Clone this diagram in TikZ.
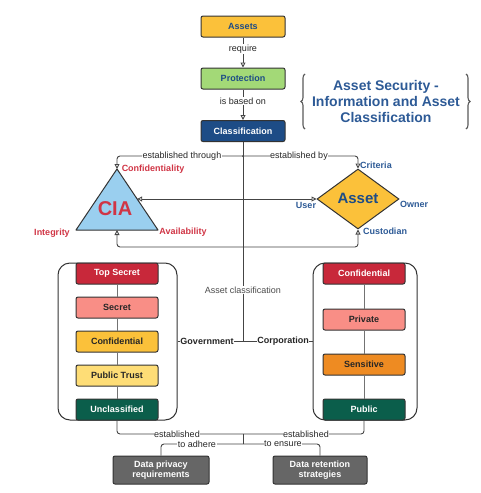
\documentclass[tikz,border=0pt]{standalone}
\usepackage{fontspec}
\setmainfont{Liberation Sans}
\usetikzlibrary{arrows.meta,shapes.geometric,decorations.pathreplacing}
\definecolor{cyellow}{HTML}{FBC13A}
\definecolor{cgreen}{HTML}{A3D977}
\definecolor{cdblue}{HTML}{1D4C86}
\definecolor{cred}{HTML}{C8283A}
\definecolor{csalmon}{HTML}{F98E86}
\definecolor{clyellow}{HTML}{FEDD76}
\definecolor{cdgreen}{HTML}{0B5E4B}
\definecolor{corange}{HTML}{EE8B22}
\definecolor{cgray}{HTML}{666666}
\definecolor{ctri}{HTML}{9ACFEF}
\definecolor{ctxtred}{HTML}{D03545}
\definecolor{ctxtblue}{HTML}{2D5A96}
\definecolor{cedge}{HTML}{333333}
\definecolor{cline}{HTML}{444444}
\begin{document}
\begin{tikzpicture}[x=1pt,y=-1pt,
  box/.style={draw=cedge, line width=1pt, rounded corners=2pt, minimum width=82pt, minimum height=21pt, inner sep=0pt, font=\fontsize{9}{10.5}\selectfont\bfseries, align=center},
  cont/.style={draw=cedge, line width=1pt, rounded corners=12pt, minimum height=157pt, inner sep=0pt},
  lbl/.style={fill=white, inner sep=0.6pt, font=\fontsize{9}{10}\selectfont, text=black!85},
  clbl/.style={inner sep=0pt, font=\fontsize{9}{10}\selectfont\bfseries},
  conn/.style={draw=cline, line width=0.9pt},
  arr/.style={conn, -{Triangle[length=5pt,width=5pt,fill=white]}},
  arrb/.style={conn, {Triangle[length=5pt,width=5pt,fill=white]}-{Triangle[length=5pt,width=5pt,fill=white]}},
  brc/.style={draw=black!65, line width=1.1pt, decorate, decoration={brace, amplitude=4pt}}
]
\useasboundingbox (0,0) rectangle (480,493);

% top chain
\node[box, minimum width=84pt, fill=cyellow, text=cdblue] (assets) at (243,26.5) {Assets};
\node[box, minimum width=84pt, fill=cgreen, text=cdblue] (prot) at (243,78.5) {Protection};
\node[box, minimum width=84pt, fill=cdblue, text=white] (class) at (243,131) {Classification};

% title
\node[font=\fontsize{14}{16}\selectfont\bfseries, text=ctxtblue, align=center] (title) at (386,101) {Asset Security -\\Information and Asset\\Classification};
\draw[brc] (305,129) -- (305,74);
\draw[brc] (466,74) -- (466,129);

% CIA triangle
\coordinate (apex) at (117,169);
\coordinate (base) at (117,230);
\coordinate (triR) at (137.2,199);
\draw[fill=ctri, draw=cedge, line width=1pt, line join=round] (apex) -- (158,230) -- (76,230) -- cycle;
\node[font=\fontsize{20}{22}\selectfont\bfseries, text=ctxtred] (cia) at (115,209) {CIA};
\node[clbl, text=ctxtred] (lconf) at (153,169.5) {Confidentiality};
\node[clbl, text=ctxtred] (linteg) at (52,233) {Integrity};
\node[clbl, text=ctxtred] (lavail) at (183,232) {Availability};

% Asset diamond
\node[diamond, draw=cedge, fill=cyellow, line width=1pt, minimum width=82pt, minimum height=60pt, inner sep=0pt, font=\fontsize{15}{17}\selectfont\bfseries, text=cdblue] (asset) at (358,199) {\raisebox{2pt}{Asset}};
\node[clbl, text=ctxtblue] (lcrit) at (376,165) {Criteria};
\node[clbl, text=ctxtblue] (luser) at (306,205) {User};
\node[clbl, text=ctxtblue] (lowner) at (414,204.5) {Owner};
\node[clbl, text=ctxtblue] (lcust) at (385,231) {Custodian};

% junction coordinates
\coordinate (jt) at (243,156);
\coordinate (jc) at (243,341);
\coordinate (jb) at (243,247);
\coordinate (je) at (243,434);
\coordinate (jf) at (243,444);

% containers
\node[cont, minimum width=119pt] (gov) at (117.5,341.5) {};
\node[cont, minimum width=104pt] (corp) at (365,341.5) {};

% government boxes
\node[box, fill=cred, text=white] (ts) at (117,273.5) {Top Secret};
\node[box, fill=csalmon, text=black!85] (sec) at (117,307.5) {Secret};
\node[box, fill=cyellow, text=black!85] (gconf) at (117,341.5) {Confidential};
\node[box, fill=clyellow, text=black!85] (ptrust) at (117,375.5) {Public Trust};
\node[box, fill=cdgreen, text=white] (uncl) at (117,409.5) {Unclassified};

% corporation boxes
\node[box, fill=cred, text=white] (cconf) at (364,273.5) {Confidential};
\node[box, fill=csalmon, text=black!85] (priv) at (364,319.5) {Private};
\node[box, fill=corange, text=black!85] (sens) at (364,364.5) {Sensitive};
\node[box, fill=cdgreen, text=white] (pub) at (364,409.5) {Public};

% bottom boxes
\node[box, fill=cgray, text=white, minimum width=96pt, minimum height=28pt] (dp) at (161,470) {Data privacy\\requirements};
\node[box, fill=cgray, text=white, minimum width=94pt, minimum height=28pt] (dr) at (320,470) {Data retention\\strategies};

% connectors
\draw[arr] (assets.south) -- (prot.north);
\draw[arr] (prot.south) -- (class.north);
\draw[conn] (class.south) -- (jc);
\draw[arr, rounded corners=3pt] (jt) -| (apex);
\draw[arr, rounded corners=3pt] (jt) -| (asset.north);
\fill[cline] (jt) circle (1pt);
\draw[arrb] (asset.west) -- (triR);
\draw[arrb, rounded corners=3pt] (base) |- (jb) -| (asset.south);
\draw[conn] (gov.east |- jc) -- (corp.west |- jc);

\draw[conn, draw=black!55] (ts.south) -- (sec.north);
\draw[conn, draw=black!55] (sec.south) -- (gconf.north);
\draw[conn, draw=black!55] (gconf.south) -- (ptrust.north);
\draw[conn, draw=black!55] (ptrust.south) -- (uncl.north);
\draw[conn, draw=black!55] (cconf.south) -- (priv.north);
\draw[conn, draw=black!55] (priv.south) -- (sens.north);
\draw[conn, draw=black!55] (sens.south) -- (pub.north);

\draw[conn, rounded corners=3pt] (uncl.south) |- (je);
\draw[conn, rounded corners=3pt] (pub.south) |- (je);
\draw[conn] (je) -- (jf);
\draw[conn, rounded corners=3pt] (jf) -| (dp.north);
\draw[conn, rounded corners=3pt] (jf) -| (dr.north);

% labels
\node[lbl] (lreq) at (243,49) {require};
\node[lbl] (lbased) at (243,101) {is based on};
\node[lbl] (lthrough) at (182,156) {established through};
\node[lbl] (lby) at (299,156) {established by};
\node[lbl, text=black!70] (lassetcl) at (243,290) {Asset classification};
\node[lbl, font=\fontsize{9}{10}\selectfont\bfseries] (lgov) at (207,341) {Government};
\node[lbl, font=\fontsize{9}{10}\selectfont\bfseries] (lcorp) at (283,341) {Corporation};
\node[lbl] (lest1) at (177,434) {established};
\node[lbl] (lest2) at (306,434) {established};
\node[lbl] (ladhere) at (197,444) {to adhere};
\node[lbl] (lensure) at (283,444) {to ensure};
\end{tikzpicture}
\end{document}
